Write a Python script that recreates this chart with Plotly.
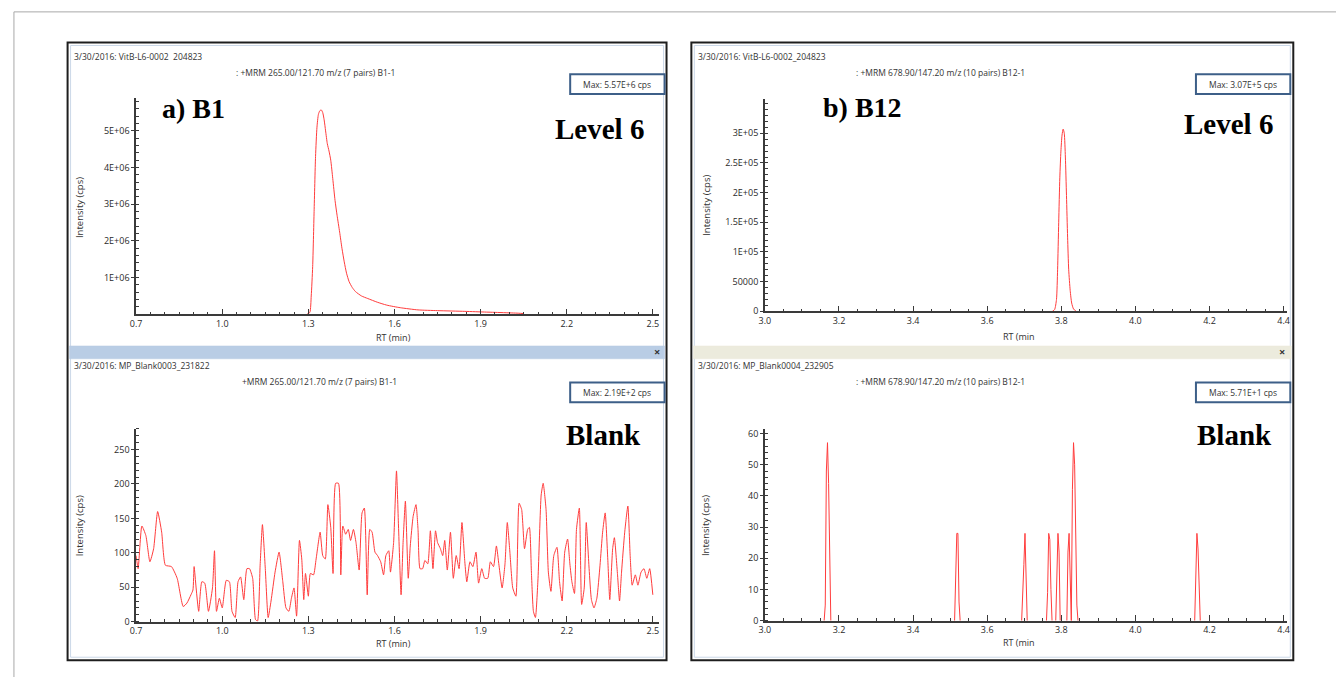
import plotly.graph_objects as go

W, H = 1339, 683

# ---------------- data ----------------
# B1, calibration level 6 (RT in min, intensity in cps)
b1_rt = [1.295, 1.305, 1.310, 1.315, 1.320, 1.325, 1.330, 1.335, 1.340, 1.345,
         1.350, 1.355, 1.360, 1.366, 1.372, 1.378, 1.385, 1.393, 1.400, 1.409,
         1.417, 1.425, 1.433, 1.442, 1.453, 1.464, 1.485, 1.507, 1.540, 1.573,
         1.620, 1.682, 1.750, 1.845, 1.920, 1.980, 2.031, 2.050]
b1_int = [0, 0.05e6, 0.5e6, 1.3e6, 2.8e6, 4.3e6, 5.1e6, 5.45e6, 5.55e6, 5.57e6,
          5.5e6, 5.3e6, 5.0e6, 4.65e6, 4.45e6, 4.2e6, 3.7e6, 3.1e6, 2.7e6, 2.24e6,
          1.8e6, 1.43e6, 1.12e6, 0.89e6, 0.73e6, 0.62e6, 0.5e6, 0.43e6, 0.33e6, 0.25e6,
          0.18e6, 0.12e6, 0.10e6, 0.08e6, 0.06e6, 0.045e6, 0.03e6, 0.02e6]

# B1, mobile-phase blank
b1_blank_rt = [0.700, 0.707, 0.720, 0.734, 0.748, 0.761, 0.775, 0.789, 0.802, 0.823,
               0.843, 0.864, 0.877, 0.891, 0.898, 0.902, 0.909, 0.918, 0.929, 0.939,
               0.952, 0.966, 0.973, 0.980, 0.990, 1.000, 1.014, 1.025, 1.034, 1.045,
               1.055, 1.064, 1.075, 1.086, 1.095, 1.106, 1.116, 1.123, 1.132, 1.140,
               1.150, 1.160, 1.170, 1.184, 1.198, 1.211, 1.222, 1.232, 1.241, 1.250,
               1.259, 1.269, 1.277, 1.284, 1.290, 1.300, 1.307, 1.318, 1.327, 1.341,
               1.350, 1.359, 1.368, 1.378, 1.386, 1.395, 1.405, 1.413, 1.420, 1.430,
               1.439, 1.447, 1.457, 1.466, 1.477, 1.487, 1.495, 1.505, 1.514, 1.522,
               1.532, 1.541, 1.552, 1.562, 1.570, 1.580, 1.586, 1.597, 1.607, 1.614,
               1.623, 1.630, 1.638, 1.648, 1.655, 1.665, 1.675, 1.682, 1.689, 1.698,
               1.706, 1.716, 1.725, 1.734, 1.743, 1.750, 1.760, 1.768, 1.775, 1.784,
               1.795, 1.805, 1.815, 1.825, 1.835, 1.845, 1.852, 1.863, 1.873, 1.884,
               1.893, 1.904, 1.914, 1.925, 1.934, 1.945, 1.955, 1.964, 1.975, 1.985,
               1.993, 2.002, 2.012, 2.023, 2.034, 2.043, 2.053, 2.064, 2.070, 2.077,
               2.084, 2.091, 2.100, 2.111, 2.118, 2.128, 2.136, 2.145, 2.155, 2.166,
               2.175, 2.184, 2.193, 2.203, 2.211, 2.218, 2.227, 2.234, 2.244, 2.252,
               2.261, 2.268, 2.278, 2.286, 2.295, 2.305, 2.316, 2.325, 2.334, 2.343,
               2.350, 2.360, 2.366, 2.377, 2.384, 2.391, 2.402, 2.413, 2.421, 2.428,
               2.439, 2.448, 2.459, 2.469, 2.479, 2.489, 2.500]
b1_blank_int = [96, 77, 139, 125, 87, 106, 160, 130, 82, 80,
                63, 22, 27, 39, 46, 80, 49, 15, 58, 56,
                15, 49, 103, 15, 34, 20, 60, 58, 15, 6,
                58, 65, 32, 77, 77, 63, 3, 1, 82, 141,
                77, 6, 30, 72, 101, 58, 20, 15, 34, 49,
                8, 118, 91, 32, 70, 37, 70, 68, 91, 130,
                96, 91, 170, 137, 70, 201, 201, 68, 139, 127,
                134, 118, 134, 115, 75, 158, 165, 39, 134, 130,
                101, 96, 87, 68, 96, 103, 72, 115, 219, 139,
                39, 115, 175, 63, 110, 153, 170, 134, 77, 77,
                89, 84, 132, 77, 132, 115, 106, 96, 118, 75,
                130, 63, 96, 77, 144, 87, 58, 87, 80, 101,
                56, 77, 63, 63, 87, 80, 110, 82, 49, 84,
                144, 101, 49, 37, 172, 163, 106, 134, 137, 72,
                15, 6, 63, 184, 201, 163, 72, 44, 96, 108,
                58, 30, 101, 120, 84, 58, 41, 134, 165, 25,
                49, 144, 77, 32, 20, 34, 82, 130, 158, 91,
                32, 106, 122, 68, 30, 72, 130, 168, 96, 53,
                68, 53, 72, 77, 63, 77, 39]

# B12, calibration level 6
b12_rt = [3.776, 3.782, 3.787, 3.790, 3.793, 3.796, 3.799, 3.802, 3.805,
          3.808, 3.811, 3.814, 3.817, 3.820, 3.824, 3.828, 3.833, 3.840]
b12_int = [0, 3e3, 20e3, 70e3, 150e3, 225e3, 270e3, 297e3, 307e3,
           300e3, 260e3, 195e3, 125e3, 70e3, 35e3, 14e3, 4e3, 0]

# B12, mobile-phase blank (isolated spikes, None separates them)
b12_blank_rt = [3.160, 3.163, 3.166, 3.169, 3.172, 3.175, 3.178, None,
                3.512, 3.515, 3.518, 3.521, 3.524, 3.527, None,
                3.693, 3.696, 3.699, 3.702, 3.705, 3.708, None,
                3.760, 3.763, 3.766, 3.769, 3.772, 3.775, None,
                3.785, 3.788, 3.791, 3.794, 3.797, None,
                3.815, 3.818, 3.821, 3.824, 3.827, 3.830, 3.833, 3.836, 3.839, 3.842, 3.845, None,
                4.160, 4.163, 4.166, 4.169, 4.172, 4.175]
b12_blank_int = [0, 5, 48, 57.1, 44, 22, 0, None,
                 0, 17, 28, 28, 6, 0, None,
                 0, 7, 18, 28, 16, 0, None,
                 0, 9, 28, 26, 10, 0, None,
                 0, 11, 28, 22, 0, None,
                 0, 22, 28, 11, 0, 42, 57.1, 50, 27, 5, 0, None,
                 0, 11, 28, 23, 11, 0]

# tick values / labels
b1_xticks = [0.7, 1.0, 1.3, 1.6, 1.9, 2.2, 2.5]
b1_xlabels = ["0.7", "1.0", "1.3", "1.6", "1.9", "2.2", "2.5"]
b12_xticks = [3.0, 3.2, 3.4, 3.6, 3.8, 4.0, 4.2, 4.4]
b12_xlabels = ["3.0", "3.2", "3.4", "3.6", "3.8", "4.0", "4.2", "4.4"]
b1_yticks = [1e6, 2e6, 3e6, 4e6, 5e6]
b1_ylabels = ["1E+06", "2E+06", "3E+06", "4E+06", "5E+06"]
b1_blank_yticks = [0, 50, 100, 150, 200, 250]
b1_blank_ylabels = ["0", "50", "100", "150", "200", "250"]
b12_yticks = [0, 5e4, 1e5, 1.5e5, 2e5, 2.5e5, 3e5]
b12_ylabels = ["0", "50000", "1E+05", "1.5E+05", "2E+05", "2.5E+05", "3E+05"]
b12_blank_yticks = [0, 10, 20, 30, 40, 50, 60]
b12_blank_ylabels = ["0", "10", "20", "30", "40", "50", "60"]


# ---------------- helpers ----------------
def px(x):
    return x / W


def py(y):
    return 1 - y / H


AX = "#3a3a3a"
TRACE = "#ff3c3c"
SANS = "Open Sans"
SERIF = "Liberation Serif"
TICKFONT = dict(family=SANS, size=9, color="#2a2a2a")


def xaxis_cfg(x0, x1, rng, ticks, labels, anchor, minor_dt):
    return dict(domain=[px(x0), px(x1)], range=rng, anchor=anchor,
                tickmode="array", tickvals=ticks, ticktext=labels,
                showline=True, linecolor=AX, linewidth=1.5,
                ticks="inside", ticklen=6, tickcolor=AX, tickwidth=1,
                minor=dict(tickmode="linear", tick0=rng[0], dtick=minor_dt,
                           ticks="inside", ticklen=3, tickcolor=AX, showgrid=False),
                showgrid=False, zeroline=False, tickfont=TICKFONT, fixedrange=True)


def yaxis_cfg(y_top, y_bot, rng, ticks, labels, anchor, minor_dt):
    return dict(domain=[py(y_bot), py(y_top)], range=rng, anchor=anchor,
                tickmode="array", tickvals=ticks, ticktext=labels,
                showline=True, linecolor=AX, linewidth=1.5,
                ticks="outside", ticklen=3, tickcolor=AX, tickwidth=1,
                minor=dict(tickmode="linear", tick0=0, dtick=minor_dt,
                           ticks="inside", ticklen=3, tickcolor=AX, showgrid=False),
                showgrid=False, zeroline=False, tickfont=TICKFONT, fixedrange=True)


fig = go.Figure()

line_style = dict(color=TRACE, width=1)
fig.add_trace(go.Scatter(x=b1_rt, y=b1_int, mode="lines", xaxis="x", yaxis="y",
                         line=dict(**line_style, shape="spline", smoothing=0.6)))
fig.add_trace(go.Scatter(x=b1_blank_rt, y=b1_blank_int, mode="lines", xaxis="x2", yaxis="y2",
                         line=dict(**line_style, shape="spline", smoothing=0.5)))
fig.add_trace(go.Scatter(x=b12_rt, y=b12_int, mode="lines", xaxis="x3", yaxis="y3",
                         line=dict(**line_style, shape="spline", smoothing=0.6)))
fig.add_trace(go.Scatter(x=b12_blank_rt, y=b12_blank_int, mode="lines", xaxis="x4", yaxis="y4",
                         line=line_style, connectgaps=False))

LX0, LX1 = 131, 657
RX0, RX1 = 764, 1290

layout = dict(
    width=W, height=H, margin=dict(l=0, r=0, t=0, b=0),
    paper_bgcolor="white", plot_bgcolor="rgba(0,0,0,0)", showlegend=False,
    xaxis=xaxis_cfg(LX0, LX1, [0.7, 2.52], b1_xticks, b1_xlabels, "y", 0.05),
    yaxis=yaxis_cfg(97, 316, [0, 5.9e6], b1_yticks, b1_ylabels, "x", 2e5),
    xaxis2=xaxis_cfg(LX0, LX1, [0.7, 2.52], b1_xticks, b1_xlabels, "y2", 0.05),
    yaxis2=yaxis_cfg(432, 627, [0, 280], b1_blank_yticks, b1_blank_ylabels, "x2", 10),
    xaxis3=xaxis_cfg(RX0, RX1, [3.0, 4.41], b12_xticks, b12_xlabels, "y3", 0.05),
    yaxis3=yaxis_cfg(98, 313, [0, 3.58e5], b12_yticks, b12_ylabels, "x3", 1e4),
    xaxis4=xaxis_cfg(RX0, RX1, [3.0, 4.41], b12_xticks, b12_xlabels, "y4", 0.05),
    yaxis4=yaxis_cfg(432, 626, [0, 61.5], b12_blank_yticks, b12_blank_ylabels, "x4", 2),
)
fig.update_layout(**layout)

shapes = []


def rect(x0, y0, x1, y1, color, width=1, fill=None, layer="below"):
    shapes.append(dict(type="rect", xref="paper", yref="paper",
                       x0=px(x0), x1=px(x1), y0=py(y1), y1=py(y0),
                       line=dict(color=color, width=width),
                       fillcolor=fill if fill else "rgba(0,0,0,0)", layer=layer))


def hline(x0, x1, y, color, width=1):
    shapes.append(dict(type="line", xref="paper", yref="paper",
                       x0=px(x0), x1=px(x1), y0=py(y), y1=py(y),
                       line=dict(color=color, width=width)))


def vline(x, y0, y1, color, width=1):
    shapes.append(dict(type="line", xref="paper", yref="paper",
                       x0=px(x), x1=px(x), y0=py(y0), y1=py(y1),
                       line=dict(color=color, width=width)))


# page frame
hline(8, W, 10, "#a8a8a8", 1)
vline(8, 10, H, "#a8a8a8", 1)

# window panels
rect(62, 41, 665, 666, "#1e1e1e", 2)
rect(65, 44, 662, 663, "#cbd8e8", 1)
rect(690, 41, 1296, 666, "#1e1e1e", 2)
rect(693, 44, 1293, 663, "#cbd8e8", 1)

# separator bars between the two traces of each window
rect(64, 348, 663, 361, "#b9cde5", 0.5, "#b9cde5")
rect(692, 348, 1294, 361, "#ecebdd", 0.5, "#ecebdd")

# Max boxes
for bx, by in [(568, 73), (568, 385), (1198, 73), (1198, 385)]:
    rect(bx, by, bx + 95, by + 20, "#3d5f88", 2, "white", layer="above")

fig.update_layout(shapes=shapes)

annotations = []


def text(s, x, y, size, family=SANS, color="#333333", xanchor="left", angle=0, bold=False):
    if bold:
        s = "<b>" + s + "</b>"
    annotations.append(dict(text=s, x=px(x), y=py(y), xref="paper", yref="paper",
                            xanchor=xanchor, yanchor="middle", showarrow=False,
                            textangle=angle, font=dict(family=family, size=size, color=color)))


# headers
text("3/30/2016: VitB-L6-0002  204823", 66, 55, 8.5)
text(": +MRM 265.00/121.70 m/z (7 pairs) B1-1", 230, 71, 8.5)
text("3/30/2016: MP_Blank0003_231822", 66, 368, 8.5)
text("+MRM 265.00/121.70 m/z (7 pairs) B1-1", 236, 384, 8.5)
text("3/30/2016: VitB-L6-0002_204823", 695, 55, 8.5)
text(": +MRM 678.90/147.20 m/z (10 pairs) B12-1", 854, 71, 8.5)
text("3/30/2016: MP_Blank0004_232905", 695, 368, 8.5)
text(": +MRM 678.90/147.20 m/z (10 pairs) B12-1", 854, 384, 8.5)

# Max labels
text("Max: 5.57E+6 cps", 615.5, 83, 8.5, xanchor="center")
text("Max: 2.19E+2 cps", 615.5, 395, 8.5, xanchor="center")
text("Max: 3.07E+5 cps", 1245.5, 83, 8.5, xanchor="center")
text("Max: 5.71E+1 cps", 1245.5, 395, 8.5, xanchor="center")

# close marks
text("×", 655, 354, 11, color="#333333", xanchor="center", bold=True)
text("×", 1285, 354, 11, color="#333333", xanchor="center", bold=True)

# axis titles
text("RT (min)", 390, 339, 9, xanchor="center")
text("RT (min)", 390, 649, 9, xanchor="center")
text("RT (min", 1020, 338, 9, xanchor="center")
text("RT (min", 1020, 648, 9, xanchor="center")
text("Intensity (cps)", 74, 208, 9.5, xanchor="center", angle=-90)
text("Intensity (cps)", 74, 530, 9.5, xanchor="center", angle=-90)
text("Intensity (cps)", 705, 206, 9.5, xanchor="center", angle=-90)
text("Intensity (cps)", 705, 530, 9.5, xanchor="center", angle=-90)

# panel labels
text("a) B1", 189, 108, 28, family=SERIF, color="black", xanchor="center", bold=True)
text("Level 6", 598, 129, 29, family=SERIF, color="black", xanchor="center", bold=True)
text("Blank", 602, 438, 29, family=SERIF, color="black", xanchor="center", bold=True)
text("b) B12", 862, 107, 28, family=SERIF, color="black", xanchor="center", bold=True)
text("Level 6", 1231, 123, 29, family=SERIF, color="black", xanchor="center", bold=True)
text("Blank", 1237, 438, 29, family=SERIF, color="black", xanchor="center", bold=True)

fig.update_layout(annotations=annotations)

fig.write_html("out.html")
